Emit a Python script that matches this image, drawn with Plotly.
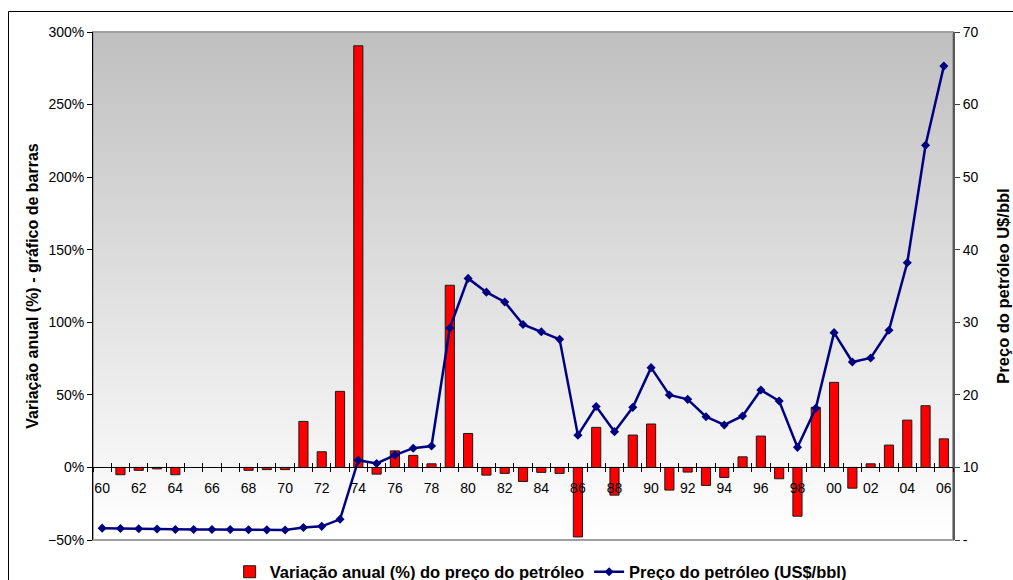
import plotly.graph_objects as go

# ---------------- data ----------------
years = [1960, 1961, 1962, 1963, 1964, 1965, 1966, 1967, 1968, 1969,
         1970, 1971, 1972, 1973, 1974, 1975, 1976, 1977, 1978, 1979,
         1980, 1981, 1982, 1983, 1984, 1985, 1986, 1987, 1988, 1989,
         1990, 1991, 1992, 1993, 1994, 1995, 1996, 1997, 1998, 1999,
         2000, 2001, 2002, 2003, 2004, 2005, 2006]

tick_years = [1960, 1962, 1964, 1966, 1968, 1970, 1972, 1974, 1976, 1978,
              1980, 1982, 1984, 1986, 1988, 1990, 1992, 1994, 1996, 1998,
              2000, 2002, 2004, 2006]
tick_labels = ["60", "62", "64", "66", "68", "70", "72", "74", "76", "78",
               "80", "82", "84", "86", "88", "90", "92", "94", "96", "98",
               "00", "02", "04", "06"]

# annual variation (%) of oil price
pct_change = [None, -5, -2, -1, -5, None, None, None, -2, -1.5,
              -1.5, 31.7, 10.8, 52.4, 290.5, -4.6, 11.4, 8.3, 2.5, 125.5,
              23.4, -5.3, -4.1, -9.7, -3.4, -4.1, -47.9, 27.6, -19.1, 22.3,
              29.9, -15.6, -3.2, -12.4, -6.9, 7.3, 21.6, -7.8, -33.6, 41.4,
              58.6, -14.3, 2.5, 15.4, 32.6, 42.5, 19.7]

# oil price (US$/bbl)
price = [1.63, 1.58, 1.55, 1.52, 1.45, 1.45, 1.45, 1.45, 1.42, 1.40,
         1.38, 1.72, 1.88, 2.85, 11.0, 10.55, 11.7, 12.65, 12.95, 29.2,
         36.05, 34.15, 32.8, 29.7, 28.7, 27.65, 14.45, 18.4, 14.93, 18.28,
         23.75, 19.98, 19.38, 16.99, 15.85, 17.09, 20.67, 19.15, 12.77, 18.15,
         28.57, 24.53, 25.08, 28.9, 38.2, 54.4, 65.3]

right_tickvals = [0, 10, 20, 30, 40, 50, 60, 70]
right_ticktext = ["-", "10", "20", "30", "40", "50", "60", "70"]

bar_name = "Variação anual (%) do preço do petróleo"
line_name = "Preço do petróleo (US$/bbl)"
left_title = "Variação anual (%) - gráfico de barras"
right_title = "Preço do petróleo U$/bbl"

# ---------------- figure ----------------
FONT = "Arial, 'Liberation Sans', sans-serif"
W, H = 1013, 580
ML, MR, MT, MB = 93, 60, 32, 40
PW, PH = W - ML - MR, H - MT - MB

xr = [years[0] - 0.5, years[-1] + 0.5]
boundaries = [y - 0.5 for y in years] + [years[-1] + 0.5]
zero_pos = 50 / 350  # 0% on left axis ranged -50..300

fig = go.Figure()
fig.add_trace(go.Bar(
    x=years, y=pct_change, name="<b>" + bar_name + "</b>", yaxis="y", xaxis="x",
    width=0.5,
    marker=dict(color="#ff0000", line=dict(color="#1a1a1a", width=1)),
))
fig.add_trace(go.Scatter(
    x=years, y=price, name="<b>" + line_name + "</b>", yaxis="y2", xaxis="x",
    mode="lines+markers",
    line=dict(color="#000080", width=2.5),
    marker=dict(symbol="diamond", size=7, color="#000080"),
))
# helper invisible trace for the crossing tick-mark axis
fig.add_trace(go.Scatter(x=[years[0]], y=[0], xaxis="x2", yaxis="y",
                         mode="markers", marker=dict(opacity=0),
                         showlegend=False, hoverinfo="skip"))

# gradient background bands
shapes = []
n = 64
for i in range(n):
    t = (i + 0.5) / n  # 0 bottom -> 1 top
    c = int(round(255 - (255 - 192) * t))
    shapes.append(dict(type="rect", xref="paper", yref="paper",
                       x0=0, x1=1, y0=i / n, y1=min(1.0, (i + 1) / n + 0.003),
                       fillcolor=f"rgb({c},{c},{c})", line=dict(width=0),
                       layer="below"))
# plot-area border
shapes.append(dict(type="rect", xref="paper", yref="paper", x0=0, x1=1, y0=0, y1=1,
                   line=dict(color="#a0a0a0", width=2), layer="below"))
# outer chart border (left and top edges)
bx = (8.5 - ML) / PW
by = (MT + PH - 11.5) / PH
shapes.append(dict(type="line", xref="paper", yref="paper",
                   x0=bx, x1=bx, y0=-0.3, y1=by,
                   line=dict(color="#000000", width=1), layer="below"))
shapes.append(dict(type="line", xref="paper", yref="paper",
                   x0=bx, x1=(W - ML) / PW, y0=by, y1=by,
                   line=dict(color="#000000", width=1), layer="below"))

fig.update_layout(
    width=W, height=H,
    margin=dict(l=ML, r=MR, t=MT, b=MB, autoexpand=False),
    paper_bgcolor="#ffffff", plot_bgcolor="#ffffff",
    font=dict(family=FONT, size=14, color="#000000"),
    shapes=shapes,
    showlegend=True,
    legend=dict(orientation="h", x=0.5205, xanchor="center", y=-0.063, yanchor="middle",
                font=dict(family=FONT, size=16.5, color="#000000"),
                bgcolor="rgba(0,0,0,0)", itemwidth=30, tracegroupgap=0),
    xaxis=dict(
        range=xr, anchor="free", position=zero_pos,
        tickmode="array", tickvals=tick_years, ticktext=tick_labels,
        ticks="outside", ticklen=8, tickcolor="rgba(0,0,0,0)",
        showline=True, linecolor="#000000", linewidth=1,
        showgrid=False, zeroline=False,
        tickfont=dict(family=FONT, size=14, color="#000000"),
        minor=dict(ticks="outside", tickmode="array", tickvals=boundaries,
                   ticklen=4, tickcolor="#000000", tickwidth=1, showgrid=False),
    ),
    xaxis2=dict(
        range=xr, overlaying="x", anchor="free", position=zero_pos,
        tickmode="array", tickvals=boundaries, ticks="inside", ticklen=4,
        tickcolor="#000000", showticklabels=False, showline=False,
        showgrid=False, zeroline=False,
    ),
    yaxis=dict(
        range=[-50, 300], tickmode="linear", tick0=-50, dtick=50, ticksuffix="%",
        ticks="outside", ticklen=5, tickcolor="#000000",
        showline=True, linecolor="#000000", linewidth=1,
        showgrid=False, zeroline=False,
        tickfont=dict(family=FONT, size=14, color="#000000"),
        title=dict(text=left_title, standoff=5,
                   font=dict(family=FONT, size=16, color="#000000", weight="bold")),
    ),
    yaxis2=dict(
        range=[0, 70], overlaying="y", side="right", anchor="x",
        tickmode="array", tickvals=right_tickvals, ticktext=right_ticktext,
        ticks="outside", ticklen=5, tickcolor="#404040",
        showline=True, linecolor="#595959", linewidth=2,
        showgrid=False, zeroline=False,
        tickfont=dict(family=FONT, size=14, color="#000000"),
        title=dict(text=right_title, standoff=20,
                   font=dict(family=FONT, size=16.5, color="#000000", weight="bold")),
    ),
)

fig.write_html(
    "out.html",
    config={"displayModeBar": False},
    post_script="document.body.style.margin='0';document.body.style.overflow='hidden';",
)
